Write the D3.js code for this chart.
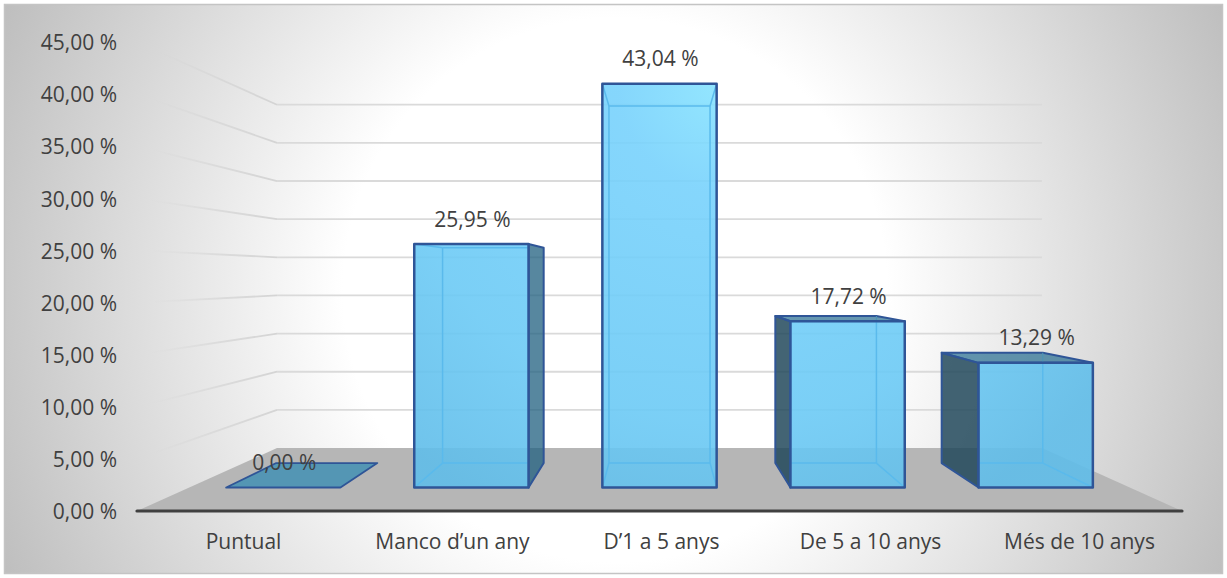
<!DOCTYPE html>
<html><head><meta charset="utf-8">
<script src="https://cdn.jsdelivr.net/npm/d3@7"></script>
<style>html,body{margin:0;padding:0;background:#fff}svg{display:block}text{font-family:"Open Sans",sans-serif;fill:#404040}</style>
</head><body><div id="c"></div>
<script>
const categories=["Puntual","Manco d’un any","D’1 a 5 anys","De 5 a 10 anys","Més de 10 anys"];
const values=[0,25.95,43.04,17.72,13.29];
const yTicks=[0,5,10,15,20,25,30,35,40,45];
const fmt=v=>v.toFixed(2).replace(".",",")+" %";

const W=1227,H=578,FS=21;
const svg=d3.select("#c").append("svg").attr("width",W).attr("height",H);
const defs=svg.append("defs");

// front-plane scales
const x=d3.scaleBand().domain(categories).range([137,1182]);
const y=d3.scaleLinear().domain([0,45]).range([511,42]);
// perspective
const vp=[659.5,276];
const sWall=0.732,sBarFront=0.9,sBarBack=0.796;
const proj=(X,Y,s)=>[vp[0]+(X-vp[0])*s,vp[1]+(Y-vp[1])*s];
const line=d3.line();

const bg=defs.append("radialGradient").attr("id","bg").attr("gradientUnits","userSpaceOnUse")
 .attr("cx",615).attr("cy",290).attr("r",680);
bg.append("stop").attr("offset",0.40).attr("stop-color","#fff");
bg.append("stop").attr("offset",1).attr("stop-color","#bdbdbd");
const fade=defs.append("linearGradient").attr("id","fade").attr("gradientUnits","userSpaceOnUse")
 .attr("x1",137).attr("x2",277).attr("y1",0).attr("y2",0);
fade.append("stop").attr("offset",0.1).attr("stop-color","#d4d4d4").attr("stop-opacity",0);
fade.append("stop").attr("offset",0.6).attr("stop-color","#d4d4d4").attr("stop-opacity",0.7);
fade.append("stop").attr("offset",1).attr("stop-color","#d4d4d4").attr("stop-opacity",1);
const fg=defs.append("radialGradient").attr("id","front").attr("gradientUnits","userSpaceOnUse")
 .attr("cx",725).attr("cy",85).attr("r",480);
fg.append("stop").attr("offset",0).attr("stop-color","#88e4ff");
fg.append("stop").attr("offset",0.22).attr("stop-color","#78d2fc");
fg.append("stop").attr("offset",0.7).attr("stop-color","#6ccaf5");
fg.append("stop").attr("offset",1).attr("stop-color","#60bde9");

svg.append("rect").attr("x",4.5).attr("y",4.5).attr("width",1218).attr("height",569)
 .attr("fill","url(#bg)").attr("stroke","#c4c4c4").attr("stroke-width",1.5);

// grid
const X0=x.range()[0],X1=x.range()[1];
const grid=svg.append("g");
yTicks.filter(t=>t>0).forEach(t=>{
  const a=[X0,y(t)],b=proj(X0,y(t),sWall),c=proj(X1,y(t),sWall);
  grid.append("path").attr("d",line([a,b])).attr("fill","none").attr("stroke","url(#fade)").attr("stroke-width",1.8);
  grid.append("path").attr("d",line([b,c])).attr("fill","none").attr("stroke","#dadada").attr("stroke-width",1.8);
});
// floor
svg.append("path").attr("d",line([[X0,y(0)],[X1,y(0)],proj(X1,y(0),sWall),proj(X0,y(0),sWall)])+"Z").attr("fill","#b6b6b6");

// bars
const bw=127;
const edge="#2f5597",inner="#5abaec";
const bars=svg.append("g");
categories.forEach((cat,i)=>{
  const v=values[i],cx=x(cat)+x.bandwidth()/2,L=cx-bw/2,R=cx+bw/2,T=y(v),B=y(0);
  const f=(X,Y)=>proj(X,Y,sBarFront),k=(X,Y)=>proj(X,Y,sBarBack);
  const g=bars.append("g");
  const poly=(pts,fill,op,stroke,sw)=>g.append("path").attr("d",line(pts)+"Z").attr("fill",fill).attr("fill-opacity",op)
     .attr("stroke",stroke||"none").attr("stroke-width",sw||0).attr("stroke-linejoin","round");
  if(v===0){
    poly([f(L,B),f(R,B),k(R,B),k(L,B)],"#5496b4",1,edge,1.8);
    return;
  }
  const seg=(a,b,c,w)=>g.append("path").attr("d",line([a,b])).attr("stroke",c).attr("stroke-width",w).attr("fill","none");
  const flb=f(L,B),frb=f(R,B),flt=f(L,T),frt=f(R,T),klb=k(L,B),krb=k(R,B),klt=k(L,T),krt=k(R,T);
  const leftVisible=klb[0]<flb[0],rightVisible=krb[0]>frb[0],topVisible=klt[1]<flt[1];
  if(leftVisible) poly([flb,flt,klt,klb],"#1f4659",0.84,edge,2);
  if(rightVisible) poly([frb,frt,krt,krb],"#1f5f7f",0.75,edge,2);
  if(topVisible) poly([flt,frt,krt,klt],"#2a6f92",0.72,edge,2);
  poly([flb,frb,frt,flt],"url(#front)",0.9);
  // edges of the far side, seen through the front face
  const xa0=Math.max(klb[0],flb[0]),xa1=Math.min(krb[0],frb[0]);
  const yTop=Math.max(klt[1],flt[1]);
  seg([xa0,klb[1]],[xa1,klb[1]],inner,1.5);
  if(!topVisible) seg([xa0,klt[1]],[xa1,klt[1]],inner,1.5);
  if(!rightVisible){seg(krb,[krb[0],yTop],inner,1.5);seg(frb,krb,inner,1.5);if(!topVisible)seg(frt,krt,inner,1.5);}
  if(!leftVisible){seg(klb,[klb[0],yTop],inner,1.5);seg(flb,klb,inner,1.5);if(!topVisible)seg(flt,klt,inner,1.5);}
  if(topVisible&&!rightVisible) seg(krt,[krt[0],flt[1]],"#4c93b5",1.2);
  poly([flb,frb,frt,flt],"none",0,edge,2.5);
});

// axis line
svg.append("line").attr("x1",X0).attr("x2",X1).attr("y1",y(0)).attr("y2",y(0))
 .attr("stroke","#404040").attr("stroke-width",3.2).attr("stroke-linecap","round");

// axes
const ya=svg.append("g").attr("transform","translate(117,1)")
 .call(d3.axisLeft(y).tickValues(yTicks).tickSize(0).tickPadding(0).tickFormat(fmt));
ya.select(".domain").remove();
ya.selectAll("text").attr("font-size",FS).style("font-family",'"Open Sans",sans-serif').attr("fill","#404040");
const xa=svg.append("g").attr("transform","translate(2,541)")
 .call(d3.axisBottom(x).tickSize(0).tickPadding(0));
xa.select(".domain").remove();
xa.selectAll("text").attr("dy",0).attr("y",0).attr("dominant-baseline","central").attr("font-size",FS).style("font-family",'"Open Sans",sans-serif').attr("fill","#404040");

// data labels
svg.append("g").selectAll("text").data(values).join("text")
 .attr("x",(d,i)=>proj(x(categories[i])+x.bandwidth()/2,y(d),sBarFront)[0]+1)
 .attr("y",d=>proj(0,y(d),sBarFront)[1]-25.5)
 .attr("text-anchor","middle").attr("dominant-baseline","central").attr("font-size",FS)
 .text(fmt);
</script></body></html>
